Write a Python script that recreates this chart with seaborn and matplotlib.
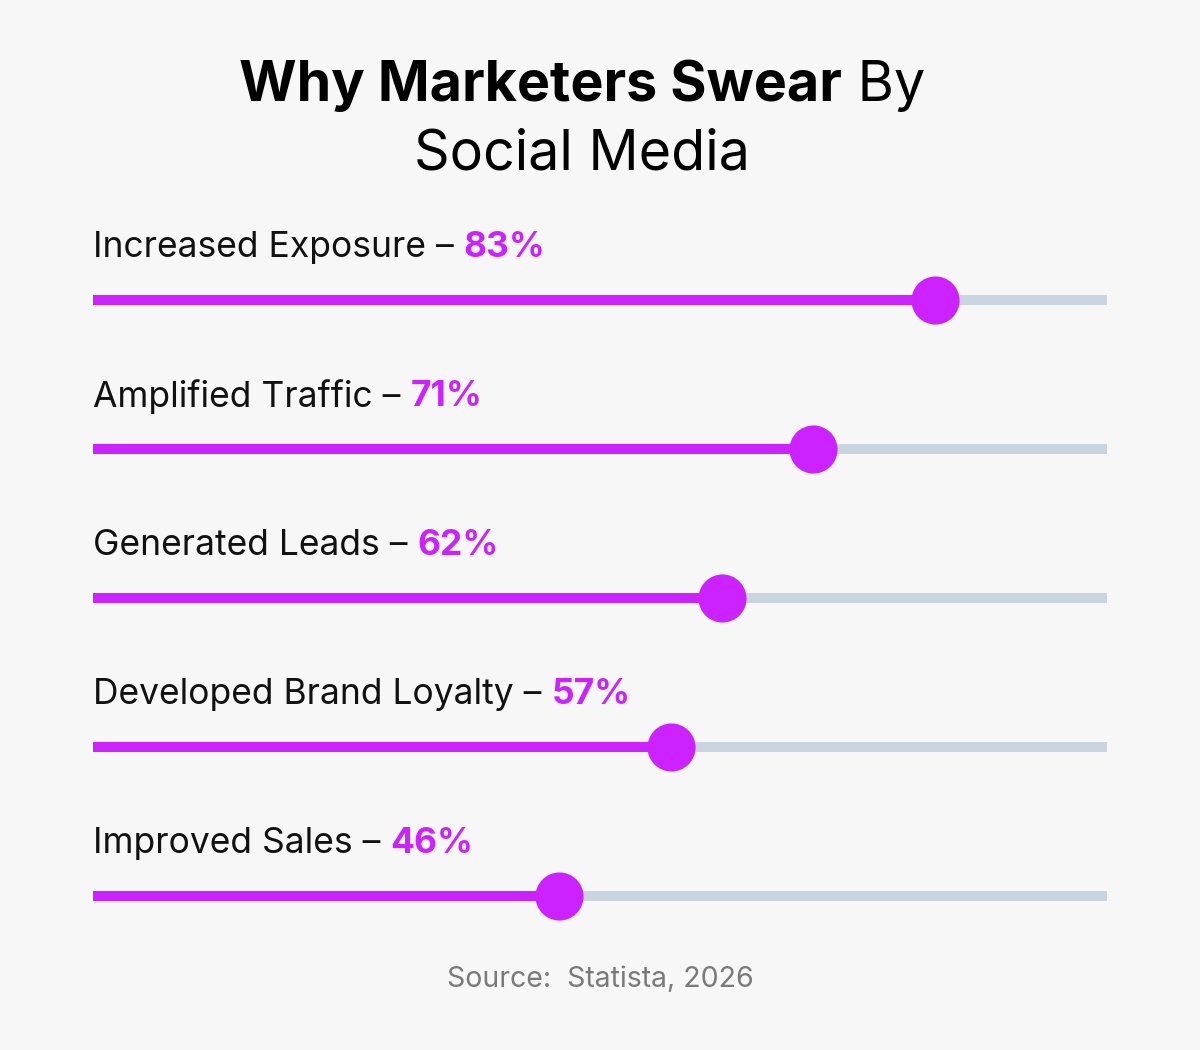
import pandas as pd
import seaborn as sns
import matplotlib.pyplot as plt

# Chart data
reasons = ["Increased Exposure", "Amplified Traffic", "Generated Leads",
           "Developed Brand Loyalty", "Improved Sales"]
shares = [83, 71, 62, 57, 46]
full_scale = [100, 100, 100, 100, 100]

df = pd.DataFrame({"reason": reasons, "share": shares, "full": full_scale})

BG = "#F7F7F7"
MAGENTA = "#CC22FF"
TRACK = "#C8D4DE"

sns.set_theme(style="white")
plt.rcParams["font.family"] = ["Inter", "DejaVu Sans"]

fig = plt.figure(figsize=(12, 10.5), dpi=100, facecolor=BG)
# axes spans the track width; y runs over the whole figure height
ax = fig.add_axes([93 / 1200, 0, 1014 / 1200, 1])
ax.set_facecolor(BG)

bar_w = 10 / 149
sns.barplot(data=df, x="full", y="reason", color=TRACK, width=bar_w,
            orient="h", ax=ax, saturation=1, linewidth=0)
sns.barplot(data=df, x="share", y="reason", color=MAGENTA, width=bar_w,
            orient="h", ax=ax, saturation=1, linewidth=0)
sns.scatterplot(data=df, x="share", y="reason", color=MAGENTA, s=1200,
                linewidth=0, ax=ax, zorder=5, legend=False)

ax.set_xlim(0, 100)
ax.set_ylim((1050 - 300) / 149, -300 / 149)
ax.axis("off")

# row labels with the value right after them
for i, (name, val) in enumerate(zip(reasons, shares)):
    lbl = ax.text(0, i - 0.35, f"{name} – ", fontsize=25.5, color="#111111",
                  ha="left", va="center")
    ax.annotate(f"{val}%", xy=(1, 0.5), xycoords=lbl, va="center", ha="left",
                fontsize=25.5, fontweight="bold", color=MAGENTA)

# title, first line mixes bold and regular
fig.canvas.draw()
r = fig.canvas.get_renderer()
t1 = fig.text(0, 1 - 86 / 1050, "Why Marketers Swear", fontsize=40,
              fontweight="bold", color="#000000", ha="left", va="center")
t2 = fig.text(0, 1 - 86 / 1050, " By", fontsize=40, color="#000000",
              ha="left", va="center")
w1 = t1.get_window_extent(r).width
w2 = t2.get_window_extent(r).width
x0 = (582 - (w1 + w2) / 2) / 1200
t1.set_x(x0)
t2.set_x(x0 + w1 / 1200)
fig.text(582 / 1200, 1 - 154 / 1050, "Social Media", fontsize=40,
         color="#000000", ha="center", va="center")

fig.text(600 / 1200, 1 - 980 / 1050, "Source:  Statista, 2026", fontsize=20.5,
         color="#7A7A7A", ha="center", va="center")

fig.savefig("out.png", dpi=100, facecolor=BG)
